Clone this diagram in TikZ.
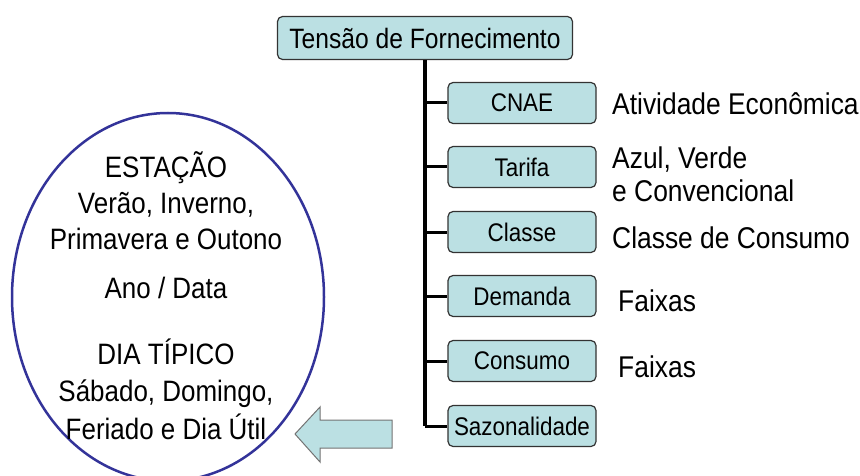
\documentclass[tikz,border=0pt]{standalone}
\usepackage{fontspec}
\setmainfont{Liberation Sans}[FakeStretch=0.88]
\usepackage{xcolor}
\definecolor{caixa}{RGB}{187,224,227}
\definecolor{borda}{RGB}{51,51,153}
\usetikzlibrary{shapes.geometric}
\usetikzlibrary{positioning}

\begin{document}
\begin{tikzpicture}[x=1pt,y=-1pt,
	ramo/.style={draw=black!80, fill=caixa, rounded corners=5pt, line width=1.2pt,
		minimum width=148pt, minimum height=41pt, inner sep=0pt,
		font=\fontsize{25.5}{28}\selectfont},
	rotulo/.style={anchor=west, inner sep=0pt, align=left,
		font=\fontsize{30}{33}\selectfont},
	texto/.style={inner sep=0pt, align=center, font=\fontsize{29.5}{36}\selectfont}]
		\useasboundingbox (0,0) rectangle (860,476);

		%top box
		\node[ramo, minimum width=295pt, minimum height=43pt, font=\fontsize{28}{30}\selectfont]
			(topo) at (425,38) {Tensão de Fornecimento};

		%boxes of the tree
		\foreach \n/\t/\y in {cnae/CNAE/103, tarifa/Tarifa/167, classe/Classe/232,
			demanda/Demanda/296, consumo/Consumo/361, saz/Sazonalidade/426}
		\node[ramo] (\n) at (522,\y) {\t};

		%draw trunk and branches
		\draw[line width=3.5pt] (topo.south) -- (topo.south |- saz.west);
		\foreach \n in {cnae,tarifa,classe,demanda,consumo,saz}
		\draw[line width=3pt] (topo.south |- \n.west) -- (\n.west);

		%labels on the right
		\node[rotulo] (ativ) at (612,104) {Atividade Econômica};
		\node[rotulo] (cores) at (612,174) {Azul, Verde\\e Convencional};
		\node[rotulo] (cons) at (612,238) {Classe de Consumo};
		\node[rotulo] (faixa1) at (618,301) {Faixas};
		\node[rotulo] (faixa2) at (618,367) {Faixas};

		%ellipse and its texts
		\node[draw=borda, line width=2.5pt, ellipse, minimum width=312pt, minimum height=368pt]
			(estacao) at (168,297) {};
		\node[texto] (est) at (166,201) {ESTAÇÃO\\Verão, Inverno,\\Primavera e Outono};
		\node[texto] (ano) at (166,288) {Ano / Data};
		\node[texto, font=\fontsize{29.5}{37.5}\selectfont] (dia) at (166,389)
			{DIA TÍPICO\\Sábado, Domingo,\\Feriado e Dia Útil};

		%block arrow
		\filldraw[draw=black!55, fill=caixa, line width=1pt]
			(392,420) -- (320,420) -- (320,407) -- (295,434) -- (320,462)
			-- (320,448) -- (392,448) -- cycle;
	\end{tikzpicture}
\end{document}
